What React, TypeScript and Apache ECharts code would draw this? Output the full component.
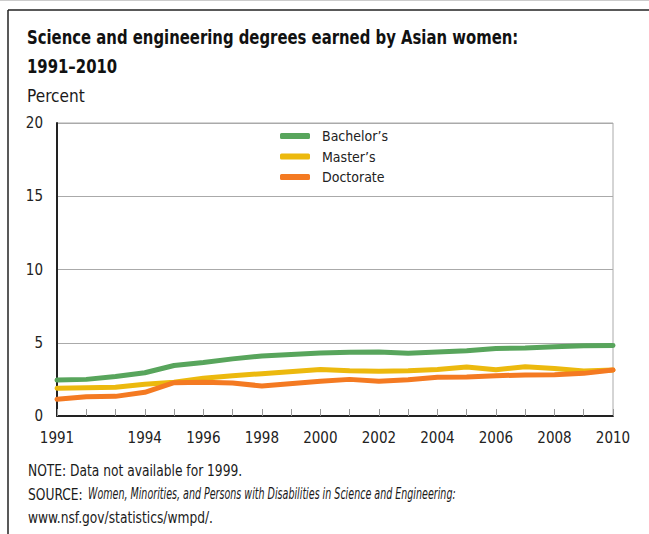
import React, { useEffect, useRef } from "react";
import * as echarts from "echarts";

const years = [1991, 1992, 1993, 1994, 1995, 1996, 1997, 1998, 1999, 2000, 2001, 2002, 2003, 2004, 2005, 2006, 2007, 2008, 2009, 2010];
const labelYears = [1991, 1994, 1996, 1998, 2000, 2002, 2004, 2006, 2008, 2010];
const bachelors = [2.45, 2.5, 2.7, 2.95, 3.45, 3.65, 3.9, 4.1, null, 4.3, 4.35, 4.37, 4.28, 4.37, 4.46, 4.6, 4.64, 4.73, 4.8, 4.82];
const masters = [1.9, 1.93, 1.96, 2.16, 2.3, 2.57, 2.75, 2.89, null, 3.18, 3.09, 3.05, 3.09, 3.18, 3.34, 3.16, 3.36, 3.25, 3.07, 3.14];
const doctorate = [1.14, 1.32, 1.34, 1.62, 2.27, 2.3, 2.25, 2.05, null, 2.37, 2.5, 2.37, 2.48, 2.64, 2.66, 2.75, 2.8, 2.82, 2.91, 3.14];
const seriesNames = ["Bachelor\u2019s", "Master\u2019s", "Doctorate"];
const seriesColors = ["#58a55c", "#ecb90e", "#f47a22"];
const yTicks = { min: 0, max: 20, interval: 5 };

const FONT = "'DejaVu Sans Condensed', 'DejaVu Sans', sans-serif";

function txt(x: number, y: number, text: string, fontSize: number, scaleX: number, extra: any = {}) {
  return {
    type: "text",
    x,
    y,
    scaleX,
    style: {
      text,
      x: 0,
      y: 0,
      align: "left",
      verticalAlign: "middle",
      fontFamily: FONT,
      fontSize,
      fill: "#1a1a1a",
      ...extra,
    },
  };
}

export default function App() {
  const ref = useRef<HTMLDivElement>(null);
  useEffect(() => {
    if (!ref.current) return;
    const chart = echarts.init(ref.current, undefined, { renderer: "svg" });
    const seriesData = [bachelors, masters, doctorate];
    chart.setOption({
      animation: false,
      backgroundColor: "#ffffff",
      textStyle: { fontFamily: FONT },
      grid: { left: 57, right: 36, top: 123, bottom: 118, show: true, borderColor: "#aaaaaa", borderWidth: 1 },
      legend: {
        orient: "vertical",
        left: 275,
        top: 124,
        itemWidth: 30,
        itemHeight: 6,
        itemGap: 6.5,
        icon: "roundRect",
        textStyle: { fontFamily: FONT, fontSize: 14, color: "#222", padding: [0, 0, 0, 7] },
        data: seriesNames,
      },
      xAxis: {
        type: "value",
        min: 1991,
        max: 2010,
        interval: 1,
        axisLine: { show: true, lineStyle: { color: "#222", width: 2 } },
        axisTick: { show: true, inside: true, length: 7, lineStyle: { color: "#999" } },
        splitLine: { show: false },
        axisLabel: {
          fontFamily: FONT,
          fontSize: 15,
          color: "#222",
          margin: 14,
          formatter: (v: number) => (labelYears.includes(v) ? String(v) : ""),
        },
      },
      yAxis: {
        type: "value",
        min: yTicks.min,
        max: yTicks.max,
        interval: yTicks.interval,
        axisLine: { show: true, lineStyle: { color: "#222", width: 2 } },
        axisTick: { show: false },
        splitLine: { show: true, lineStyle: { color: "#aaaaaa", width: 1 } },
        axisLabel: { fontFamily: FONT, fontSize: 15, color: "#222", margin: 14 },
      },
      series: seriesNames.map((name, i) => ({
        name,
        type: "line",
        data: years.map((y, j) => [y, seriesData[i][j]]),
        connectNulls: true,
        showSymbol: false,
        symbol: "none",
        color: seriesColors[i],
        lineStyle: { width: 5, color: seriesColors[i], cap: "round", join: "round" },
      })),
      graphic: [
        { type: "line", shape: { x1: 0, y1: 0.5, x2: 649, y2: 0.5 }, style: { stroke: "#cccccc", lineWidth: 1 } },
        { type: "line", shape: { x1: 8, y1: 10, x2: 649, y2: 10 }, style: { stroke: "#222", lineWidth: 1.5 } },
        { type: "line", shape: { x1: 8, y1: 10, x2: 8, y2: 534 }, style: { stroke: "#222", lineWidth: 1.5 } },
        txt(27, 37, "Science and engineering degrees earned by Asian women:", 19, 0.87, { fontWeight: "bold", fill: "#111" }),
        txt(27, 66, "1991\u20132010", 19, 0.87, { fontWeight: "bold", fill: "#111" }),
        txt(27, 95.5, "Percent", 18, 0.95),
        txt(28, 470, "NOTE: Data not available for 1999.", 15.5, 0.88),
        txt(28, 494, "SOURCE:", 15.5, 0.88),
        txt(88, 494, "Women, Minorities, and Persons with Disabilities in Science and Engineering:", 15.5, 0.684, { fontStyle: "italic" }),
        txt(28, 517, "www.nsf.gov/statistics/wmpd/.", 15.5, 0.88),
      ],
    });
    return () => chart.dispose();
  }, []);
  return <div ref={ref} style={{ position: "fixed", left: 0, top: 0, width: 649, height: 534 }} />;
}
